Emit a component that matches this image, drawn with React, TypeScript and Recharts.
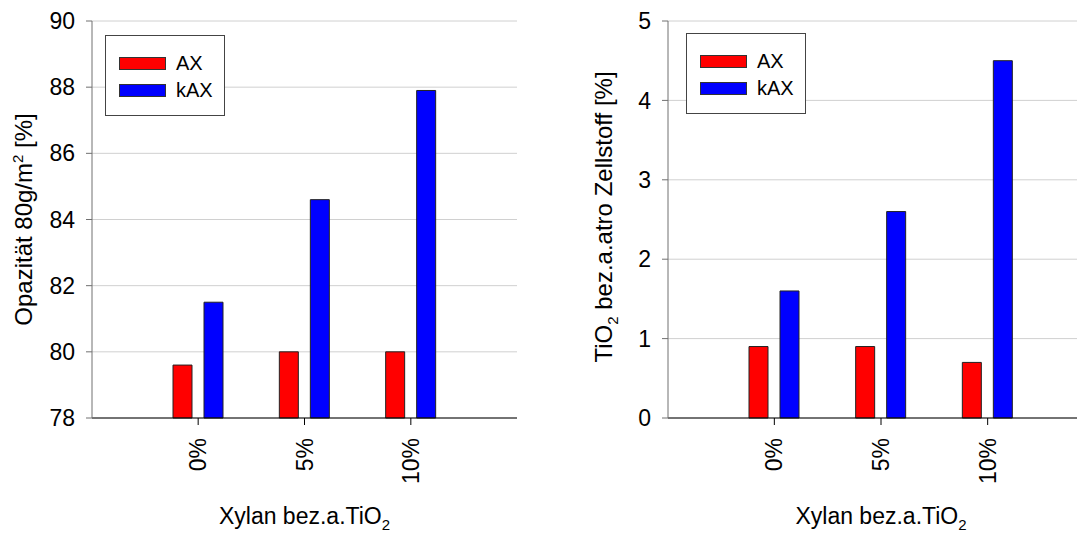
import { BarChart, Bar, XAxis, YAxis, CartesianGrid } from 'recharts'

const categories = ['0%', '5%', '10%']
const opacityAX = [79.6, 80.0, 80.0]
const opacityKAX = [81.5, 84.6, 87.9]
const tio2AX = [0.9, 0.9, 0.7]
const tio2KAX = [1.6, 2.6, 4.5]
const opacityTicks = [78, 80, 82, 84, 86, 88, 90]
const tio2Ticks = [0, 1, 2, 3, 4, 5]

const series = [
  { key: 'AX', color: '#ff0000' },
  { key: 'kAX', color: '#0000ff' },
]

const opacityData = categories.map((name, i) => ({ name, AX: opacityAX[i], kAX: opacityKAX[i] }))
const tio2Data = categories.map((name, i) => ({ name, AX: tio2AX[i], kAX: tio2KAX[i] }))

const FONT = '"Liberation Sans", Arial, sans-serif'

const XTick = ({ x, y, payload }: any) => (
  <g transform={`translate(${x},${y})`}>
    <text transform="rotate(-90)" x={-11} y={0} dy="0.35em" textAnchor="end" fontSize={23} fill="#000">
      {payload.value}
    </text>
  </g>
)

const XTitle = ({ viewBox }: any) => (
  <text x={viewBox.x + viewBox.width / 2} y={524} textAnchor="middle" fontSize={23} fill="#000">
    Xylan bez.a.TiO<tspan dy={6} fontSize={15}>2</tspan>
  </text>
)

function LegendBox({ left, top }: { left: number; top: number }) {
  return (
    <div
      style={{
        position: 'absolute', left, top, width: 120, height: 81,
        border: '1px solid #444', background: '#fff', boxSizing: 'border-box',
      }}
    >
      {series.map((s, i) => (
        <div key={s.key} style={{ position: 'absolute', left: 13, top: 20 + i * 27, height: 14, display: 'flex', alignItems: 'center' }}>
          <div style={{ width: 45, height: 11, background: s.color, border: '1px solid #333' }} />
          <span style={{ marginLeft: 10, fontSize: 20, lineHeight: '14px' }}>{s.key}</span>
        </div>
      ))}
    </div>
  )
}

function Panel({ data, domain, ticks, width, yWidth, marginRight, yLabel }: any) {
  return (
    <BarChart
      width={width}
      height={535}
      data={data}
      margin={{ top: 21, right: marginRight, bottom: 0, left: 0 }}
      barSize={19}
      barGap={12}
    >
      <CartesianGrid vertical={false} stroke="#d0d0d0" />
      <XAxis
        dataKey="name"
        padding={{ left: 53, right: 53 }}
        height={117}
        stroke="#000"
        tickSize={7}
        tick={<XTick />}
        interval={0}
        label={{ content: <XTitle /> }}
      />
      <XAxis xAxisId="top" orientation="top" height={0} tick={false} tickLine={false} axisLine={{ stroke: '#404040', strokeWidth: 1.5 }} />
      <YAxis
        domain={domain}
        ticks={ticks}
        width={yWidth}
        interval={0}
        stroke="#707070"
        tickSize={6}
        tickMargin={11}
        tick={{ fontSize: 23, fill: '#000' }}
        label={{ content: yLabel }}
      />
      <YAxis yAxisId="right" orientation="right" width={0} tick={false} tickLine={false} axisLine={{ stroke: '#707070', strokeWidth: 1.5 }} />
      {series.map((s) => (
        <Bar key={s.key} dataKey={s.key} fill={s.color} stroke="#222" strokeWidth={1} isAnimationActive={false} />
      ))}
    </BarChart>
  )
}

export default function App() {
  return (
    <div
      style={{
        position: 'relative', width: 1085, height: 535, margin: '-8px 0 0 -8px',
        overflow: 'hidden', background: '#fff', fontFamily: FONT, color: '#000',
      }}
    >
      <style>{'html, body { overflow: hidden; }'}</style>
      <div style={{ position: 'absolute', left: 0, top: 0 }}>
        <Panel
          data={opacityData}
          domain={[78, 90]}
          ticks={opacityTicks}
          width={560}
          yWidth={92}
          marginRight={43}
          yLabel={() => (
            <text transform="translate(32,219.5) rotate(-90)" textAnchor="middle" fontSize={24} fill="#000">
              Opazität 80g/m<tspan dy={-9} fontSize={15}>2</tspan>
              <tspan dy={9}> [%]</tspan>
            </text>
          )}
        />
        <LegendBox left={105} top={35} />
      </div>
      <div style={{ position: 'absolute', left: 560, top: 0 }}>
        <Panel
          data={tio2Data}
          domain={[0, 5]}
          ticks={tio2Ticks}
          width={560}
          yWidth={108}
          marginRight={26}
          yLabel={() => (
            <text transform="translate(52,217) rotate(-90)" textAnchor="middle" fontSize={24} fill="#000">
              TiO<tspan dy={6} fontSize={15}>2</tspan>
              <tspan dy={-6}> bez.a.atro Zellstoff [%]</tspan>
            </text>
          )}
        />
        <LegendBox left={126} top={33} />
      </div>
    </div>
  )
}
